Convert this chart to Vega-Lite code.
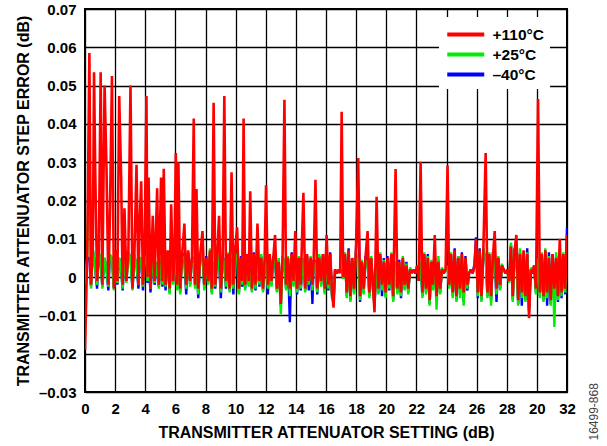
{
  "$schema": "https://vega.github.io/schema/vega-lite/v6.json",
  "width": 482,
  "height": 383,
  "autosize": "none",
  "padding": {"left": 85, "top": 9, "right": 40, "bottom": 54},
  "background": "white",
  "config": {
    "font": "Liberation Sans",
    "view": {"stroke": "black", "strokeWidth": 2},
    "axis": {
      "labelFont": "Liberation Sans", "labelFontWeight": "bold", "labelFontSize": 15, "labelColor": "black",
      "titleFont": "Liberation Sans", "titleFontWeight": "bold", "titleFontSize": 16, "titleColor": "black",
      "gridColor": "black", "gridOpacity": 1, "gridWidth": 1.3, "domain": false, "ticks": false, "labelPadding": 9
    }
  },
  "data": {"values": [
    {"x":0,"r":-0.019,"g":-0.002,"b":0},
    {"x":0.15,"r":0.006,"g":0.0055,"b":0.005},
    {"x":0.29,"r":0.0585,"g":0.034,"b":0.005},
    {"x":0.4,"r":-0.002,"g":-0.003,"b":-0.0025},
    {"x":0.52,"r":0.008,"g":0.0075,"b":0.007},
    {"x":0.6,"r":0.0535,"g":0.005,"b":0.005},
    {"x":0.68,"r":0.0274,"g":0.002,"b":0.002},
    {"x":0.8,"r":-0.001,"g":-0.002,"b":-0.003},
    {"x":0.92,"r":0.007,"g":0.0065,"b":0.006},
    {"x":1.04,"r":0.0535,"g":0.005,"b":0.004},
    {"x":1.15,"r":-0.002,"g":-0.003,"b":-0.0025},
    {"x":1.3,"r":0.05,"g":0.005,"b":0.005},
    {"x":1.43,"r":0.028,"g":0.002,"b":0.002},
    {"x":1.55,"r":-0.002,"g":-0.0025,"b":-0.0035},
    {"x":1.65,"r":0.015,"g":0.006,"b":0.0055},
    {"x":1.79,"r":0.0525,"g":0.005,"b":0.005},
    {"x":1.92,"r":-0.003,"g":-0.0035,"b":-0.003},
    {"x":2.05,"r":0.007,"g":0.0065,"b":0.007},
    {"x":2.15,"r":-0.001,"g":-0.0015,"b":-0.002},
    {"x":2.27,"r":0.0473,"g":0.005,"b":0.005},
    {"x":2.4,"r":0.026,"g":0.002,"b":0.002},
    {"x":2.5,"r":-0.002,"g":-0.003,"b":-0.0035},
    {"x":2.62,"r":0.018,"g":0.0055,"b":0.005},
    {"x":2.75,"r":-0.001,"g":-0.0015,"b":-0.001},
    {"x":2.88,"r":0.007,"g":0.0065,"b":0.0065},
    {"x":3.02,"r":0.05,"g":0.005,"b":0.005},
    {"x":3.15,"r":-0.003,"g":-0.0035,"b":-0.003},
    {"x":3.28,"r":0.006,"g":0.006,"b":0.0055},
    {"x":3.42,"r":0.0293,"g":0.003,"b":0.003},
    {"x":3.55,"r":-0.002,"g":-0.002,"b":-0.003},
    {"x":3.62,"r":0.013,"g":0.005,"b":0.0045},
    {"x":3.73,"r":0.025,"g":0.005,"b":0.005},
    {"x":3.85,"r":-0.002,"g":-0.0025,"b":-0.0035},
    {"x":3.95,"r":0.006,"g":0.0055,"b":0.006},
    {"x":4.08,"r":0.0473,"g":0.005,"b":0.005},
    {"x":4.15,"r":0,"g":-0.001,"b":-0.0015},
    {"x":4.22,"r":0.026,"g":0.004,"b":0.004},
    {"x":4.35,"r":-0.003,"g":-0.003,"b":-0.004},
    {"x":4.5,"r":0.016,"g":0.006,"b":0.0065},
    {"x":4.62,"r":-0.001,"g":-0.0015,"b":-0.002},
    {"x":4.79,"r":0.0232,"g":0.004,"b":0.004},
    {"x":4.9,"r":-0.002,"g":-0.003,"b":-0.0025},
    {"x":5.05,"r":0.026,"g":0.005,"b":0.005},
    {"x":5.14,"r":-0.001,"g":-0.002,"b":-0.0025},
    {"x":5.23,"r":0.0283,"g":0.005,"b":0.005},
    {"x":5.35,"r":-0.002,"g":-0.0025,"b":-0.0035},
    {"x":5.5,"r":0.007,"g":0.0065,"b":0.006},
    {"x":5.62,"r":-0.003,"g":-0.0045,"b":-0.004},
    {"x":5.72,"r":0.019,"g":0.005,"b":0.005},
    {"x":5.85,"r":-0.001,"g":-0.002,"b":-0.0015},
    {"x":5.94,"r":0.006,"g":0.0065,"b":0.0055},
    {"x":6.03,"r":0.0324,"g":0.004,"b":0.004},
    {"x":6.12,"r":-0.002,"g":-0.0035,"b":-0.003},
    {"x":6.2,"r":0.03,"g":0.004,"b":0.004},
    {"x":6.32,"r":-0.003,"g":-0.0045,"b":-0.004},
    {"x":6.45,"r":0.006,"g":0.0055,"b":0.0065},
    {"x":6.6,"r":0.014,"g":0.005,"b":0.004},
    {"x":6.72,"r":-0.002,"g":-0.003,"b":-0.0045},
    {"x":6.85,"r":0.007,"g":0.0065,"b":0.0065},
    {"x":6.98,"r":-0.001,"g":-0.0025,"b":-0.002},
    {"x":7.1,"r":0.005,"g":0.0045,"b":0.005},
    {"x":7.22,"r":0.0414,"g":0.005,"b":0.005},
    {"x":7.31,"r":-0.002,"g":-0.003,"b":-0.0025},
    {"x":7.4,"r":0.023,"g":0.004,"b":0.004},
    {"x":7.52,"r":-0.003,"g":-0.0045,"b":-0.0055},
    {"x":7.65,"r":0.006,"g":0.0055,"b":0.005},
    {"x":7.8,"r":0.012,"g":0.0065,"b":0.006},
    {"x":7.92,"r":-0.002,"g":-0.0035,"b":-0.003},
    {"x":8.05,"r":0.005,"g":0.0045,"b":0.0055},
    {"x":8.18,"r":-0.001,"g":-0.002,"b":-0.0015},
    {"x":8.3,"r":0.007,"g":0.0075,"b":0.0065},
    {"x":8.42,"r":-0.003,"g":-0.0045,"b":-0.004},
    {"x":8.54,"r":0.0455,"g":0.004,"b":0.004},
    {"x":8.65,"r":-0.002,"g":-0.0025,"b":-0.003},
    {"x":8.78,"r":0.006,"g":0.006,"b":0.0055},
    {"x":8.9,"r":0.016,"g":0.004,"b":0.004},
    {"x":9.02,"r":-0.003,"g":-0.004,"b":-0.0055},
    {"x":9.14,"r":0.005,"g":0.005,"b":0.0055},
    {"x":9.25,"r":0.0473,"g":0.004,"b":0.004},
    {"x":9.36,"r":-0.001,"g":-0.0025,"b":-0.003},
    {"x":9.48,"r":0.006,"g":0.0065,"b":0.0055},
    {"x":9.6,"r":-0.003,"g":-0.004,"b":-0.0035},
    {"x":9.73,"r":0.0274,"g":0.005,"b":0.005},
    {"x":9.85,"r":-0.002,"g":-0.003,"b":-0.0045},
    {"x":9.96,"r":0.007,"g":0.0065,"b":0.006},
    {"x":10.1,"r":0.013,"g":0.005,"b":0.005},
    {"x":10.22,"r":-0.003,"g":-0.0045,"b":-0.004},
    {"x":10.35,"r":0.005,"g":0.005,"b":0.0055},
    {"x":10.44,"r":-0.001,"g":-0.002,"b":-0.0025},
    {"x":10.53,"r":0.0414,"g":0.0256,"b":0.004},
    {"x":10.63,"r":-0.002,"g":-0.0035,"b":-0.003},
    {"x":10.75,"r":0.006,"g":0.0055,"b":0.006},
    {"x":10.87,"r":-0.001,"g":-0.0025,"b":-0.002},
    {"x":10.97,"r":0.0224,"g":0.004,"b":0.004},
    {"x":11.08,"r":-0.003,"g":-0.004,"b":-0.0035},
    {"x":11.2,"r":0.006,"g":0.0055,"b":0.0065},
    {"x":11.32,"r":-0.002,"g":-0.003,"b":-0.0035},
    {"x":11.45,"r":0.014,"g":0.005,"b":0.005},
    {"x":11.58,"r":-0.001,"g":-0.002,"b":-0.0025},
    {"x":11.7,"r":0.005,"g":0.006,"b":0.0055},
    {"x":11.82,"r":-0.003,"g":-0.004,"b":-0.0035},
    {"x":11.92,"r":0.004,"g":0.0045,"b":0.004},
    {"x":12.02,"r":0.024,"g":0.004,"b":0.004},
    {"x":12.14,"r":-0.002,"g":-0.003,"b":-0.0045},
    {"x":12.26,"r":0.006,"g":0.006,"b":0.0055},
    {"x":12.38,"r":-0.001,"g":-0.0025,"b":-0.002},
    {"x":12.5,"r":0.005,"g":0.0045,"b":0.0055},
    {"x":12.62,"r":0.011,"g":0.005,"b":0.004},
    {"x":12.74,"r":-0.003,"g":-0.004,"b":-0.0035},
    {"x":12.86,"r":0.004,"g":0.005,"b":0.0045},
    {"x":13,"r":-0.007,"g":-0.0097,"b":-0.0075},
    {"x":13.12,"r":0.006,"g":0.0055,"b":0.005},
    {"x":13.24,"r":0.0463,"g":0.004,"b":0.004},
    {"x":13.35,"r":-0.002,"g":-0.0035,"b":-0.003},
    {"x":13.47,"r":0.005,"g":0.0055,"b":0.005},
    {"x":13.6,"r":-0.003,"g":-0.005,"b":-0.0118},
    {"x":13.72,"r":0.006,"g":0.0055,"b":0.0065},
    {"x":13.84,"r":-0.001,"g":-0.0025,"b":-0.002},
    {"x":13.96,"r":0.012,"g":0.005,"b":0.005},
    {"x":14.08,"r":-0.003,"g":-0.004,"b":-0.0045},
    {"x":14.2,"r":0.005,"g":0.0055,"b":0.0045},
    {"x":14.32,"r":-0.002,"g":-0.003,"b":-0.0035},
    {"x":14.5,"r":0.022,"g":0.005,"b":0.005},
    {"x":14.62,"r":-0.003,"g":-0.004,"b":-0.0035},
    {"x":14.74,"r":0.006,"g":0.0055,"b":0.0055},
    {"x":14.86,"r":-0.001,"g":-0.002,"b":-0.0035},
    {"x":14.98,"r":0.005,"g":0.0055,"b":0.005},
    {"x":15.1,"r":-0.002,"g":-0.0035,"b":-0.007},
    {"x":15.18,"r":0.004,"g":0.0035,"b":0.0045},
    {"x":15.3,"r":0.0254,"g":0.004,"b":0.004},
    {"x":15.42,"r":-0.003,"g":-0.004,"b":-0.0045},
    {"x":15.55,"r":0.005,"g":0.006,"b":0.0055},
    {"x":15.68,"r":-0.001,"g":-0.0025,"b":-0.002},
    {"x":15.8,"r":0.006,"g":0.0055,"b":0.006},
    {"x":15.92,"r":-0.003,"g":-0.0045,"b":-0.004},
    {"x":16.04,"r":0.011,"g":0.005,"b":0.005},
    {"x":16.16,"r":-0.002,"g":-0.003,"b":-0.0035},
    {"x":16.28,"r":0.006,"g":0.006,"b":0.0065},
    {"x":16.4,"r":-0.004,"g":-0.0055,"b":-0.005},
    {"x":16.5,"r":-0.008,"g":-0.006,"b":-0.0065},
    {"x":16.6,"r":0.002,"g":0.0015,"b":0.002},
    {"x":16.72,"r":0.001,"g":0.0015,"b":0.001},
    {"x":16.84,"r":0.002,"g":0.0015,"b":0.0015},
    {"x":16.94,"r":0.001,"g":0.0015,"b":0.0015},
    {"x":17.04,"r":0.0432,"g":0.002,"b":0.002},
    {"x":17.14,"r":0,"g":-0.0005,"b":0},
    {"x":17.26,"r":0.006,"g":0.0065,"b":0.006},
    {"x":17.38,"r":-0.004,"g":-0.0055,"b":-0.005},
    {"x":17.5,"r":0.007,"g":0.0065,"b":0.0075},
    {"x":17.62,"r":-0.005,"g":-0.0065,"b":-0.006},
    {"x":17.74,"r":0.005,"g":0.0045,"b":0.005},
    {"x":17.86,"r":-0.003,"g":-0.0045,"b":-0.004},
    {"x":17.98,"r":0.006,"g":0.0065,"b":0.006},
    {"x":18.14,"r":0.0311,"g":0.004,"b":0.021},
    {"x":18.26,"r":-0.005,"g":-0.006,"b":-0.0065},
    {"x":18.38,"r":0.004,"g":0.0045,"b":0.0035},
    {"x":18.5,"r":-0.003,"g":-0.0045,"b":-0.004},
    {"x":18.62,"r":0.005,"g":0.0045,"b":0.0055},
    {"x":18.76,"r":0.012,"g":0.004,"b":0.004},
    {"x":18.88,"r":-0.004,"g":-0.0055,"b":-0.005},
    {"x":19,"r":0.005,"g":0.0055,"b":0.005},
    {"x":19.12,"r":-0.002,"g":-0.0035,"b":-0.003},
    {"x":19.22,"r":-0.0092,"g":-0.007,"b":-0.0075},
    {"x":19.36,"r":0.021,"g":0.004,"b":0.004},
    {"x":19.48,"r":-0.003,"g":-0.0045,"b":-0.004},
    {"x":19.6,"r":0.006,"g":0.0065,"b":0.0055},
    {"x":19.72,"r":-0.002,"g":-0.0035,"b":-0.005},
    {"x":19.84,"r":0.004,"g":0.0045,"b":0.005},
    {"x":19.96,"r":-0.004,"g":-0.0055,"b":-0.005},
    {"x":20.08,"r":0.005,"g":0.0045,"b":0.0055},
    {"x":20.2,"r":-0.002,"g":-0.003,"b":-0.0035},
    {"x":20.34,"r":0.006,"g":0.0065,"b":0.006},
    {"x":20.46,"r":-0.005,"g":-0.0065,"b":-0.006},
    {"x":20.62,"r":0.0282,"g":0.004,"b":0.004},
    {"x":20.74,"r":-0.003,"g":-0.0045,"b":-0.004},
    {"x":20.86,"r":0.004,"g":0.0035,"b":0.0045},
    {"x":20.98,"r":-0.004,"g":-0.005,"b":-0.0055},
    {"x":21.1,"r":0.005,"g":0.0055,"b":0.0045},
    {"x":21.22,"r":-0.002,"g":-0.0035,"b":-0.003},
    {"x":21.34,"r":0.003,"g":0.0035,"b":0.004},
    {"x":21.46,"r":-0.003,"g":-0.0045,"b":-0.004},
    {"x":21.58,"r":0.002,"g":0.0025,"b":0.002},
    {"x":21.7,"r":0.001,"g":0.0015,"b":0.0015},
    {"x":21.82,"r":0.002,"g":0.0015,"b":0.0015},
    {"x":21.94,"r":0.001,"g":0.0015,"b":0.001},
    {"x":22.06,"r":0.003,"g":0.0025,"b":0.003},
    {"x":22.16,"r":-0.001,"g":-0.0005,"b":-0.001},
    {"x":22.28,"r":0.0301,"g":0.004,"b":0.004},
    {"x":22.4,"r":-0.004,"g":-0.0055,"b":-0.005},
    {"x":22.52,"r":0.006,"g":0.0065,"b":0.006},
    {"x":22.64,"r":-0.003,"g":-0.0045,"b":-0.004},
    {"x":22.76,"r":0.005,"g":0.0055,"b":0.006},
    {"x":22.88,"r":-0.006,"g":-0.0075,"b":-0.007},
    {"x":23,"r":0.004,"g":0.0045,"b":0.004},
    {"x":23.1,"r":-0.002,"g":-0.0035,"b":-0.003},
    {"x":23.22,"r":0.011,"g":0.005,"b":0.005},
    {"x":23.34,"r":-0.005,"g":-0.0085,"b":-0.006},
    {"x":23.46,"r":0.004,"g":0.0055,"b":0.0045},
    {"x":23.58,"r":-0.003,"g":-0.0045,"b":-0.004},
    {"x":23.7,"r":0.002,"g":0.0025,"b":0.002},
    {"x":23.82,"r":0.001,"g":0.0015,"b":0.001},
    {"x":23.94,"r":0.002,"g":0.0015,"b":0.002},
    {"x":24.07,"r":0.0292,"g":0.003,"b":0.003},
    {"x":24.18,"r":-0.002,"g":-0.003,"b":-0.0025},
    {"x":24.3,"r":0.006,"g":0.0065,"b":0.006},
    {"x":24.42,"r":-0.004,"g":-0.0055,"b":-0.005},
    {"x":24.54,"r":0.007,"g":0.0065,"b":0.0075},
    {"x":24.66,"r":-0.005,"g":-0.0065,"b":-0.006},
    {"x":24.78,"r":0.005,"g":0.0055,"b":0.0055},
    {"x":24.9,"r":-0.003,"g":-0.0055,"b":-0.0045},
    {"x":25.02,"r":0.006,"g":0.0055,"b":0.0065},
    {"x":25.14,"r":-0.004,"g":-0.0075,"b":-0.0065},
    {"x":25.26,"r":0.005,"g":0.005,"b":0.0055},
    {"x":25.38,"r":-0.002,"g":-0.003,"b":-0.0035},
    {"x":25.5,"r":0.001,"g":0.0015,"b":0.001},
    {"x":25.62,"r":0.002,"g":0.0015,"b":0.002},
    {"x":25.74,"r":0.001,"g":0.0015,"b":0.001},
    {"x":25.86,"r":0.003,"g":0.0025,"b":0.0035},
    {"x":25.96,"r":0.01,"g":0.008,"b":0.0104},
    {"x":26.08,"r":-0.004,"g":-0.005,"b":-0.0055},
    {"x":26.2,"r":0.007,"g":0.0065,"b":0.0075},
    {"x":26.32,"r":-0.005,"g":-0.0065,"b":-0.006},
    {"x":26.44,"r":0.006,"g":0.0075,"b":0.0065},
    {"x":26.6,"r":0.0324,"g":0.005,"b":0.005},
    {"x":26.72,"r":-0.004,"g":-0.0055,"b":-0.005},
    {"x":26.84,"r":0.006,"g":0.0065,"b":0.006},
    {"x":26.96,"r":-0.005,"g":-0.0075,"b":-0.006},
    {"x":27.08,"r":0.005,"g":0.0055,"b":0.0065},
    {"x":27.2,"r":0.012,"g":0.005,"b":0.005},
    {"x":27.32,"r":-0.003,"g":-0.0045,"b":-0.0065},
    {"x":27.44,"r":0.005,"g":0.0055,"b":0.005},
    {"x":27.56,"r":-0.002,"g":-0.0035,"b":-0.003},
    {"x":27.68,"r":0.003,"g":0.0035,"b":0.003},
    {"x":27.8,"r":0.002,"g":0.0015,"b":0.002},
    {"x":27.92,"r":0.001,"g":0.0015,"b":0.001},
    {"x":28.04,"r":0.002,"g":0.0015,"b":0.002},
    {"x":28.16,"r":-0.001,"g":-0.0015,"b":-0.001},
    {"x":28.28,"r":0.008,"g":0.009,"b":0.0085},
    {"x":28.4,"r":-0.005,"g":-0.0065,"b":-0.006},
    {"x":28.52,"r":0.007,"g":0.0065,"b":0.0075},
    {"x":28.64,"r":0.011,"g":0.005,"b":0.006},
    {"x":28.76,"r":-0.006,"g":-0.0075,"b":-0.007},
    {"x":28.88,"r":0.006,"g":0.0075,"b":0.0065},
    {"x":29,"r":-0.004,"g":-0.0055,"b":-0.0075},
    {"x":29.12,"r":0.007,"g":0.0065,"b":0.006},
    {"x":29.24,"r":-0.005,"g":-0.0065,"b":-0.006},
    {"x":29.36,"r":0.006,"g":0.0065,"b":0.0075},
    {"x":29.48,"r":-0.0107,"g":-0.008,"b":-0.009},
    {"x":29.6,"r":0.002,"g":0.0025,"b":0.002},
    {"x":29.7,"r":0.001,"g":0.0015,"b":0.001},
    {"x":29.82,"r":0.003,"g":0.0025,"b":0.003},
    {"x":29.94,"r":-0.003,"g":-0.0045,"b":-0.004},
    {"x":30.08,"r":0.0465,"g":0.005,"b":0.005},
    {"x":30.2,"r":-0.004,"g":-0.0055,"b":-0.005},
    {"x":30.32,"r":0.006,"g":0.0065,"b":0.006},
    {"x":30.44,"r":-0.005,"g":-0.0065,"b":-0.006},
    {"x":30.56,"r":0.007,"g":0.0075,"b":0.0065},
    {"x":30.68,"r":-0.004,"g":-0.0055,"b":-0.0075},
    {"x":30.8,"r":0.005,"g":0.0055,"b":0.0065},
    {"x":30.92,"r":-0.006,"g":-0.0075,"b":-0.007},
    {"x":31.04,"r":0.006,"g":0.0055,"b":0.006},
    {"x":31.16,"r":-0.003,"g":-0.013,"b":-0.0045},
    {"x":31.28,"r":0.005,"g":0.0065,"b":0.0055},
    {"x":31.4,"r":-0.005,"g":-0.006,"b":-0.0065},
    {"x":31.52,"r":0.01,"g":0.006,"b":0.0055},
    {"x":31.64,"r":-0.004,"g":-0.005,"b":-0.0055},
    {"x":31.76,"r":0.006,"g":0.0065,"b":0.0055},
    {"x":31.88,"r":-0.003,"g":-0.004,"b":-0.0045},
    {"x":32,"r":0.011,"g":0.005,"b":0.013}
  ]},
  "encoding": {
    "x": {
      "field": "x", "type": "quantitative",
      "scale": {"domain": [0, 32], "nice": false},
      "axis": {
        "values": [0, 2, 4, 6, 8, 10, 12, 14, 16, 18, 20, 22, 24, 26, 28, 30, 32],
        "labelExpr": "datum.value == 30 ? '20' : datum.label",
        "title": "TRANSMITTER ATTENUATOR SETTING (dB)",
        "titlePadding": 8,
        "labelFlush": false
      }
    }
  },
  "layer": [
    {
      "mark": {"type": "line", "strokeWidth": 2.4, "strokeJoin": "bevel", "clip": true},
      "encoding": {
        "y": {
          "field": "b", "type": "quantitative",
          "scale": {"domain": [-0.03, 0.07], "nice": false, "zero": false},
          "axis": {
            "orient": "left",
            "values": [-0.03, -0.02, -0.01, 0, 0.01, 0.02, 0.03, 0.04, 0.05, 0.06, 0.07],
            "labelExpr": "datum.value == 0 ? '0' : (datum.value < 0 ? '–' + format(-datum.value, '.2f') : format(datum.value, '.2f'))",
            "title": "TRANSMITTER ATTENUATOR STEP ERROR (dB)",
            "titlePadding": 7,
            "labelFlush": false
          }
        },
        "color": {
          "datum": "–40°C",
          "scale": {"domain": ["+110°C", "+25°C", "–40°C"], "range": ["#ff0000", "#00ee00", "#0000ff"]},
          "legend": {
            "orient": "none", "legendX": 354, "legendY": 8,
            "title": null, "fillColor": "white", "padding": 6,
            "symbolType": "M-1,0L3,0", "symbolSize": 342, "symbolStrokeWidth": 4,
            "labelFont": "Liberation Sans", "labelFontSize": 15.5, "labelFontWeight": "bold", "labelColor": "black",
            "labelOffset": 24.5, "rowPadding": 0
          }
        }
      }
    },
    {
      "mark": {"type": "line", "strokeWidth": 2.4, "strokeJoin": "bevel", "clip": true},
      "encoding": {
        "y": {
          "field": "g", "type": "quantitative",
          "axis": {
            "orient": "right", "labels": false, "grid": false, "ticks": false, "domain": false,
            "title": "16499-868", "titleFontSize": 12, "titleFontWeight": "normal", "titleColor": "#444444",
            "titleAngle": 270, "titleAlign": "left", "titleBaseline": "middle", "titleY": 431, "titlePadding": 26
          }
        },
        "color": {"datum": "+25°C"}
      }
    },
    {
      "mark": {"type": "line", "strokeWidth": 2.6, "strokeJoin": "bevel", "clip": true},
      "encoding": {
        "y": {"field": "r", "type": "quantitative", "axis": null},
        "color": {"datum": "+110°C"}
      }
    }
  ],
  "resolve": {"axis": {"y": "independent"}}
}
